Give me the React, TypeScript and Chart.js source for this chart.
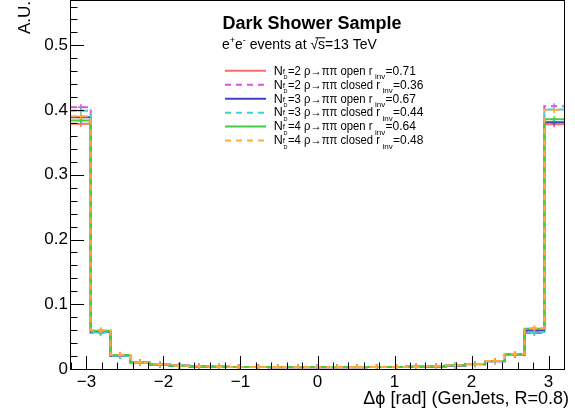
import React, { useEffect, useRef } from "react";
import { Chart, registerables } from "chart.js";
Chart.register(...registerables);

const FONT = '"Liberation Sans", Arial, Helvetica, sans-serif';

// Histogram bin edges (25 bins from -3.2 to 3.2)
const binEdges = [
  -3.2, -2.944, -2.688, -2.432, -2.176, -1.92, -1.664, -1.408, -1.152, -0.896,
  -0.64, -0.384, -0.128, 0.128, 0.384, 0.64, 0.896, 1.152, 1.408, 1.664, 1.92,
  2.176, 2.432, 2.688, 2.944, 3.2,
];

const nf2Open = [0.379, 0.058, 0.021, 0.0105, 0.007, 0.005, 0.004, 0.0035, 0.003, 0.003, 0.0028, 0.0028, 0.0028, 0.0028, 0.0028, 0.003, 0.003, 0.0035, 0.004, 0.0055, 0.0075, 0.0122, 0.0225, 0.0605, 0.378];
const nf2Closed = [0.4045, 0.056, 0.020, 0.0100, 0.0068, 0.005, 0.004, 0.0034, 0.003, 0.003, 0.0029, 0.0029, 0.0029, 0.0029, 0.0029, 0.003, 0.003, 0.0034, 0.004, 0.0055, 0.0074, 0.0118, 0.0215, 0.0555, 0.406];
const nf3Open = [0.389, 0.057, 0.021, 0.0103, 0.007, 0.005, 0.004, 0.0034, 0.003, 0.003, 0.0028, 0.0028, 0.0028, 0.0028, 0.0028, 0.003, 0.003, 0.0034, 0.004, 0.0056, 0.0076, 0.012, 0.022, 0.059, 0.381];
const nf3Closed = [0.399, 0.0565, 0.0205, 0.0102, 0.0069, 0.005, 0.004, 0.0034, 0.003, 0.003, 0.0029, 0.0029, 0.0029, 0.0029, 0.0029, 0.003, 0.003, 0.0034, 0.004, 0.0055, 0.0075, 0.0119, 0.0218, 0.057, 0.401];
const nf4Open = [0.384, 0.059, 0.0215, 0.0105, 0.0072, 0.0052, 0.0041, 0.0035, 0.003, 0.003, 0.0029, 0.0029, 0.0029, 0.0029, 0.0029, 0.003, 0.003, 0.0035, 0.0041, 0.0057, 0.0077, 0.0123, 0.0228, 0.062, 0.386];
const nf4Closed = [0.3905, 0.060, 0.022, 0.0106, 0.0072, 0.0052, 0.0041, 0.0035, 0.003, 0.003, 0.0029, 0.0029, 0.0029, 0.0029, 0.0029, 0.003, 0.003, 0.0035, 0.0041, 0.0057, 0.0077, 0.0124, 0.023, 0.063, 0.400];

const seriesValues = [nf2Open, nf2Closed, nf3Open, nf3Closed, nf4Open, nf4Closed];
const seriesNf = ["2", "2", "3", "3", "4", "4"];
const seriesKind = ["open", "closed", "open", "closed", "open", "closed"];
const seriesRinv = ["0.71", "0.36", "0.67", "0.44", "0.64", "0.48"];
const seriesColors = ["#ff6a6a", "#d957d9", "#4040c8", "#3fd0d0", "#44cc44", "#ffaa40"];
const seriesDashed = [false, true, false, true, false, true];

const xTickValues = [-3, -2, -1, 0, 1, 2, 3];
const yTickValues = [0, 0.1, 0.2, 0.3, 0.4, 0.5];

const title = "Dark Shower Sample";
const xTitle = "\u0394\u03d5 [rad] (GenJets, R=0.8)";
const yTitle = "A.U.";

const zeroPad = (s: any) => {
  s.paddingTop = 0;
  s.paddingBottom = 0;
  s.paddingLeft = 0;
  s.paddingRight = 0;
};

const rootPlugin = {
  id: "rootStyle",
  afterDraw(chart: any) {
    const ctx: CanvasRenderingContext2D = chart.ctx;
    const { left, right, top, bottom } = chart.chartArea;
    const xs = chart.scales.x;
    const ys = chart.scales.y;
    ctx.save();
    // frame
    ctx.strokeStyle = "#000";
    ctx.lineWidth = 1;
    ctx.setLineDash([]);
    ctx.strokeRect(Math.round(left) - 0.5, Math.round(top) - 0.5, Math.round(right - left) + 1, Math.round(bottom - top) + 1);
    // x ticks
    ctx.beginPath();
    for (let k = -16; k <= 16; k++) {
      const v = k * 0.2;
      const px = Math.round(xs.getPixelForValue(v)) + 0.5;
      const major = k % 5 === 0;
      if (px < left || px > right) continue;
      ctx.moveTo(px, bottom);
      ctx.lineTo(px, bottom - (major ? 13 : 6.5));
    }
    // y ticks
    for (let k = 0; k <= 28; k++) {
      const v = k * 0.02;
      const py = Math.round(ys.getPixelForValue(v)) + 0.5;
      const major = k % 5 === 0;
      if (py < top) continue;
      ctx.moveTo(left, py);
      ctx.lineTo(left + (major ? 13 : 6.5), py);
    }
    ctx.stroke();

    ctx.fillStyle = "#000";
    // axis titles
    ctx.font = `18px ${FONT}`;
    ctx.textAlign = "right";
    ctx.textBaseline = "alphabetic";
    ctx.fillText(xTitle, 569, 404);
    ctx.font = `17px ${FONT}`;
    ctx.save();
    ctx.translate(30, 0);
    ctx.rotate(-Math.PI / 2);
    ctx.textAlign = "right";
    ctx.fillText(yTitle, -1, 0);
    ctx.restore();

    // title
    ctx.textAlign = "left";
    ctx.font = `bold 18px ${FONT}`;
    ctx.fillText(title, 222.5, 28.5);

    // subtitle: e+e- events at sqrt(s)=13 TeV
    let x = 222;
    const sb = 49.3;
    const f14 = `14px ${FONT}`;
    const f9 = `9px ${FONT}`;
    const put = (t: string, font: string, dy: number) => {
      ctx.font = font;
      ctx.fillText(t, x, sb + dy);
      x += ctx.measureText(t).width;
    };
    put("e", f14, 0);
    put("+", f9, -6);
    put("e", f14, 0);
    put("-", f9, -6);
    put(" events at ", f14, 0);
    const sqrtX = x;
    put("\u221a", f14, 0);
    put("s", f14, 0);
    ctx.beginPath();
    ctx.lineWidth = 1;
    ctx.moveTo(sqrtX + 5, sb - 11.5);
    ctx.lineTo(x, sb - 11.5);
    ctx.stroke();
    put("=13 TeV", f14, 0);

    // legend
    ctx.font = `12px ${FONT}`;
    const refW = ctx.measureText(`=2 \u03c1\u2192\u03c0\u03c0 open r`).width;
    const sx = Math.min(1, 84.5 / refW);
    for (let i = 0; i < seriesValues.length; i++) {
      const ly = 70.8 + i * 13.95;
      ctx.beginPath();
      ctx.strokeStyle = seriesColors[i];
      ctx.lineWidth = 2;
      ctx.setLineDash(seriesDashed[i] ? [6, 5] : []);
      ctx.moveTo(225, ly);
      ctx.lineTo(266, ly);
      ctx.stroke();
      ctx.setLineDash([]);
      const b = ly + 3.8;
      ctx.fillStyle = "#000";
      ctx.font = `12.5px ${FONT}`;
      ctx.fillText("N", 273.8, b);
      ctx.font = `8px ${FONT}`;
      ctx.fillText("f", 282.8, b - 1);
      ctx.font = `5.5px ${FONT}`;
      ctx.fillText("D", 283.5, b + 4.5);
      ctx.font = `12px ${FONT}`;
      const main = `=${seriesNf[i]} \u03c1\u2192\u03c0\u03c0 ${seriesKind[i]} r`;
      const w = ctx.measureText(main).width * sx;
      ctx.save();
      ctx.translate(288, b);
      ctx.scale(sx, 1);
      ctx.fillText(main, 0, 0);
      ctx.restore();
      const rEnd = 288 + w;
      ctx.font = `8px ${FONT}`;
      ctx.fillText("inv", rEnd + 2.5, b + 4.5);
      ctx.font = `12px ${FONT}`;
      ctx.fillText(`=${seriesRinv[i]}`, rEnd + 13, b);
    }
    ctx.restore();
  },
};

export default function App() {
  const ref = useRef<HTMLCanvasElement>(null);
  useEffect(() => {
    if (!ref.current) return;
    Chart.defaults.font.family = FONT;
    const datasets: any[] = [];
    seriesValues.forEach((vals, i) => {
      datasets.push({
        type: "line",
        data: binEdges.map((e, k) => ({ x: e, y: vals[Math.min(k, vals.length - 1)] })),
        stepped: "before",
        borderColor: seriesColors[i],
        borderWidth: 2,
        borderDash: seriesDashed[i] ? [6, 5] : [],
        pointRadius: 0,
        fill: false,
        order: 100 - i * 2,
      });
      datasets.push({
        type: "scatter",
        data: vals.map((v, k) => ({ x: (binEdges[k] + binEdges[k + 1]) / 2, y: v })),
        pointStyle: "cross",
        pointRadius: 3,
        borderColor: seriesColors[i],
        backgroundColor: seriesColors[i],
        borderWidth: 1.5,
        order: 99 - i * 2,
      });
    });
    const chart = new Chart(ref.current, {
      type: "line",
      data: { datasets },
      options: {
        responsive: false,
        maintainAspectRatio: false,
        animation: false,
        devicePixelRatio: 1,
        layout: { autoPadding: false, padding: { top: 1, right: 11, left: 0, bottom: 0 } },
        plugins: { legend: { display: false }, tooltip: { enabled: false } },
        scales: {
          x: {
            type: "linear",
            min: -3.2,
            max: 3.2,
            grid: { display: false, drawTicks: false },
            border: { display: false },
            afterBuildTicks: (s: any) => {
              s.ticks = xTickValues.map((v) => ({ value: v }));
            },
            afterFit: (s: any) => {
              s.height = 51;
              zeroPad(s);
            },
            ticks: {
              autoSkip: false,
              maxRotation: 0,
              padding: 3,
              color: "#000",
              font: { size: 17, family: FONT },
              callback: (v: any) => (v < 0 ? "\u2212" : "") + Math.abs(v),
            },
          },
          y: {
            type: "linear",
            min: 0,
            max: 0.5685,
            grid: { display: false, drawTicks: false },
            border: { display: false },
            afterBuildTicks: (s: any) => {
              s.ticks = yTickValues.map((v) => ({ value: v }));
            },
            afterFit: (s: any) => {
              s.width = 71;
              zeroPad(s);
            },
            ticks: {
              autoSkip: false,
              padding: 3,
              color: "#000",
              font: { size: 17, family: FONT },
              callback: (v: any) => (v === 0 ? "0" : Number(v).toFixed(1)),
            },
          },
        },
      } as any,
      plugins: [rootPlugin],
    });
    return () => chart.destroy();
  }, []);
  return (
    <div style={{ position: "fixed", left: 0, top: 0, width: 575, height: 420, background: "#fff" }}>
      <canvas ref={ref} width={575} height={420} style={{ display: "block" }} />
    </div>
  );
}
